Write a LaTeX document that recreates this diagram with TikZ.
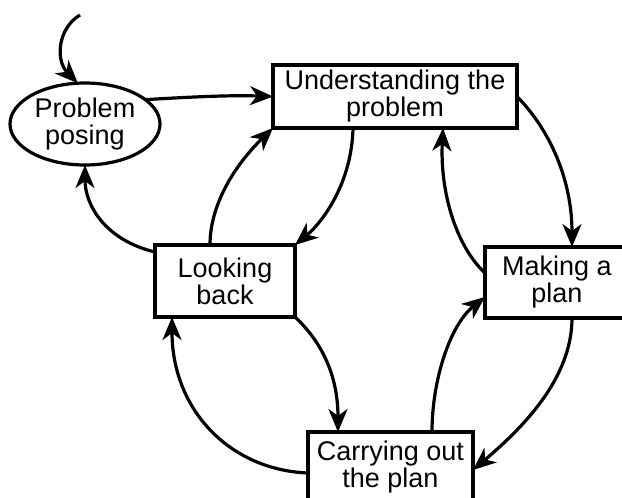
\documentclass[tikz,border=0pt]{standalone}
\usepackage{fontspec}
\setmainfont{Liberation Sans}
\usetikzlibrary{arrows.meta,calc,shapes.geometric}
\begin{document}
\begin{tikzpicture}[x=1pt,y=-1pt,
  box/.style={draw,line width=3.2pt,rectangle,inner sep=0pt,outer sep=0pt,align=center,font=\fontsize{27}{27}\selectfont},
  oval/.style={draw,line width=3.2pt,ellipse,inner sep=0pt,outer sep=0pt,align=center,font=\fontsize{27}{27}\selectfont},
  arr/.style={line width=3.2pt,-{Stealth[length=23pt,width=19pt,inset=7pt]}}]
\useasboundingbox (0,0) rectangle (622,498);
\node[oval,minimum width=150pt,minimum height=82pt] (P) at (85,124) {Problem\\posing};
\node[box,minimum width=244pt,minimum height=63pt] (U) at (395,96.5) {Understanding the\\problem};
\node[box,minimum width=140pt,minimum height=72pt] (L) at (225,281) {Looking\\back};
\node[box,minimum width=144pt,minimum height=71pt] (M) at (557,282.5) {Making a\\plan};
\node[box,minimum width=165pt,minimum height=70pt] (C) at (390.5,467) {Carrying out\\the plan};
\coordinate (S) at (80,15);
% incoming
\draw[arr] (S) .. controls (58,28) and (55,60) .. (P.100);
% P -> U
\draw[arr] (P.22) .. controls (190,97) and (230,95) .. (U.west);
% L -> P
\draw[arr] ($(L.north west)+(0,7)$) .. controls (105,240) and (85,205) .. (P.south);
% L -> U
\draw[arr] ($(L.north west)+(55,0)$) .. controls (210,200) and (240,160) .. (U.south west);
% U -> L
\draw[arr] ($(U.south west)+(80,0)$) .. controls (352,180) and (325,220) .. (L.north east);
% U -> M
\draw[arr] (U.east) .. controls (550,130) and (572,180) .. ($(M.north west)+(87,0)$);
% M -> U
\draw[arr] ($(M.north west)+(0,26)$) .. controls (455,245) and (440,190) .. ($(U.south west)+(170,0)$);
% L -> C
\draw[arr] (L.south east) .. controls (325,345) and (338,380) .. ($(C.north west)+(30,0)$);
% C -> M
\draw[arr] ($(C.north west)+(124,0)$) .. controls (432,380) and (450,325) .. ($(M.north west)+(0,50)$);
% M -> C
\draw[arr] ($(M.south west)+(87,0)$) .. controls (572,380) and (520,430) .. ($(C.north east)+(0,38)$);
% C -> L
\draw[arr] ($(C.north west)+(0,41)$) .. controls (230,470) and (172,410) .. ($(L.south west)+(17,0)$);
\end{tikzpicture}
\end{document}
